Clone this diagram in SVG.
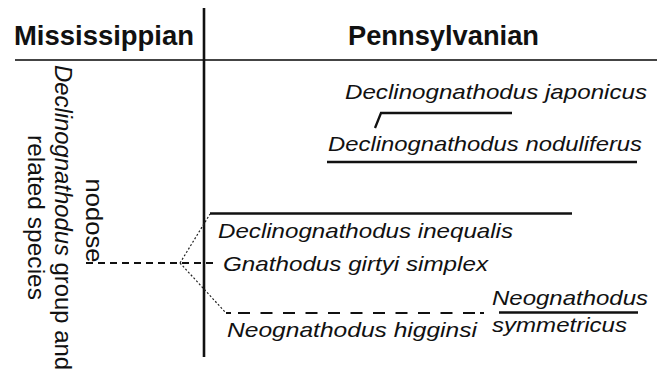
<svg xmlns="http://www.w3.org/2000/svg" width="665" height="374" viewBox="0 0 665 374">
<style>
.hdr{font-family:"Liberation Sans",Arial,sans-serif;font-weight:bold;font-size:28.5px;fill:#111}
.sp{font-family:"Liberation Sans",Arial,sans-serif;font-style:italic;font-size:21px;fill:#111}
.rot{font-family:"Liberation Sans",Arial,sans-serif;font-size:24.5px;fill:#111}
.solid{stroke:#111;stroke-width:2.3;fill:none}
.dash{stroke:#111;stroke-width:2;fill:none;stroke-dasharray:7 5}
.dot{stroke:#222;stroke-width:1.2;fill:none;stroke-dasharray:2 2}
.ldash{stroke:#111;stroke-width:2.2;fill:none}
</style>
<rect width="665" height="374" fill="#fff"/>
<g id="frame">
<line x1="15" y1="60" x2="657" y2="60" stroke="#444" stroke-width="2"/>
<line x1="204" y1="8" x2="204" y2="357" stroke="#111" stroke-width="2.6"/>
</g>
<g id="mississippian"><text class="hdr" x="14" y="44.5" textLength="180" lengthAdjust="spacingAndGlyphs">Mississippian</text></g>
<g id="pennsylvanian"><text class="hdr" x="348" y="44.5" textLength="191" lengthAdjust="spacingAndGlyphs">Pennsylvanian</text></g>
<g id="declinognathodus-group">
<text class="rot" transform="translate(55,217.5) rotate(90)" text-anchor="middle" textLength="305" lengthAdjust="spacingAndGlyphs"><tspan font-style="italic">Declinognathodus</tspan> group and</text>
<text class="rot" transform="translate(28,217.5) rotate(90)" text-anchor="middle" textLength="165" lengthAdjust="spacingAndGlyphs">related species</text>
</g>
<g id="nodose"><text class="rot" font-size="25.5" transform="translate(86,220.5) rotate(90)" text-anchor="middle" textLength="84" lengthAdjust="spacingAndGlyphs">nodose</text></g>
<g id="japonicus"><text class="sp" x="345" y="99" textLength="302" lengthAdjust="spacingAndGlyphs">Declinognathodus japonicus</text></g>
<g id="noduliferus"><text class="sp" x="328" y="151" textLength="314" lengthAdjust="spacingAndGlyphs">Declinognathodus noduliferus</text></g>
<g id="inequalis"><text class="sp" x="218" y="238" textLength="295" lengthAdjust="spacingAndGlyphs">Declinognathodus inequalis</text></g>
<g id="girtyi"><text class="sp" x="223" y="271" textLength="265" lengthAdjust="spacingAndGlyphs">Gnathodus girtyi simplex</text></g>
<g id="higginsi"><text class="sp" x="227" y="337" textLength="250" lengthAdjust="spacingAndGlyphs">Neognathodus higginsi</text></g>
<g id="symmetricus">
<text class="sp" x="492" y="305" textLength="156" lengthAdjust="spacingAndGlyphs">Neognathodus</text>
<text class="sp" x="492" y="332" textLength="135" lengthAdjust="spacingAndGlyphs">symmetricus</text>
</g>
<g id="connectors">
<polyline class="solid" points="375,128 381,113 512,113"/>
<line class="solid" x1="327" y1="162" x2="637" y2="162"/>
<line class="solid" x1="210" y1="213.5" x2="572" y2="213.5"/>
<line class="dash" x1="86" y1="263" x2="218" y2="263"/>
<line class="dot" x1="180" y1="263" x2="210" y2="214"/>
<line class="dot" x1="180" y1="263" x2="226" y2="313"/>
<path class="ldash" d="M226 313h5M238 313h12M260.5 313h12M283 313h12M305.5 313h12M328 313h12M350.5 313h12M373 313h12M395.5 313h12M418 313h12M440.5 313h12M463 313h12M480 313h4"/>
<line class="solid" x1="499" y1="312.5" x2="638" y2="312.5"/>
</g>
</svg>
